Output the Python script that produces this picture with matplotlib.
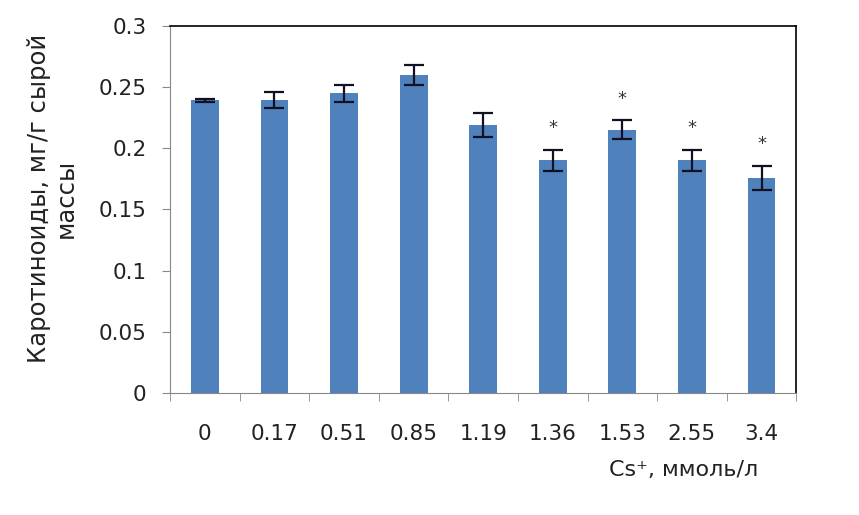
import numpy as np
import matplotlib
matplotlib.use('Agg')
import matplotlib.pyplot as plt

# данные
concentrations = ['0', '0.17', '0.51', '0.85', '1.19', '1.36', '1.53', '2.55', '3.4']
carotenoids = [0.239, 0.239, 0.245, 0.260, 0.219, 0.190, 0.215, 0.190, 0.176]
errors = [0.001, 0.0066, 0.007, 0.008, 0.010, 0.0085, 0.0077, 0.0085, 0.0098]
significant = [False, False, False, False, False, True, True, True, True]

plt.rcParams['font.family'] = ['DejaVu Sans']

fig = plt.figure(figsize=(8.59, 5.15), dpi=100)
ax = fig.add_axes([0.198, 0.237, 0.729, 0.713])

x = np.arange(len(concentrations))
ax.bar(x, carotenoids, width=0.4, color='#4F81BD', zorder=2)
ax.errorbar(x, carotenoids, yerr=errors, fmt='none', ecolor='#111122',
            elinewidth=1.6, capsize=7, capthick=1.6, zorder=3)

# звездочки
for i in range(len(x)):
    if significant[i]:
        ax.annotate('*', xy=(x[i], carotenoids[i] + errors[i]), xytext=(0, 9),
                    textcoords='offset points', ha='center', va='bottom',
                    fontsize=13, color='#333333')

ax.set_xlim(-0.5, len(x) - 0.5)
ax.set_ylim(0, 0.3)
ax.set_yticks([0, 0.05, 0.1, 0.15, 0.2, 0.25, 0.3])
ax.set_yticklabels(['0', '0.05', '0.1', '0.15', '0.2', '0.25', '0.3'])
ax.set_xticks(x)
ax.set_xticklabels(concentrations)
ax.set_xticks(np.arange(-0.5, len(x)), minor=True)
ax.tick_params(axis='x', which='major', length=0, pad=22, labelsize=15.5, labelcolor='#222222')
ax.tick_params(axis='x', which='minor', length=6, color='#888888', direction='out')
ax.tick_params(axis='y', length=6, color='#888888', labelsize=15.5, pad=11, labelcolor='#222222')

for s in ['left', 'bottom']:
    ax.spines[s].set_color('#888888')
for s in ['top', 'right']:
    ax.spines[s].set_color('black')
    ax.spines[s].set_linewidth(1.2)

ax.set_ylabel('Каротиноиды, мг/г сырой\nмассы', fontsize=17.5, color='#222222',
              linespacing=1.15)
ax.yaxis.set_label_coords(-0.147, 0.53)
fig.text(0.8825, 0.087, 'Cs⁺, ммоль/л', fontsize=16, color='#222222',
         ha='right', va='center')

plt.savefig('out.png', dpi=100)
